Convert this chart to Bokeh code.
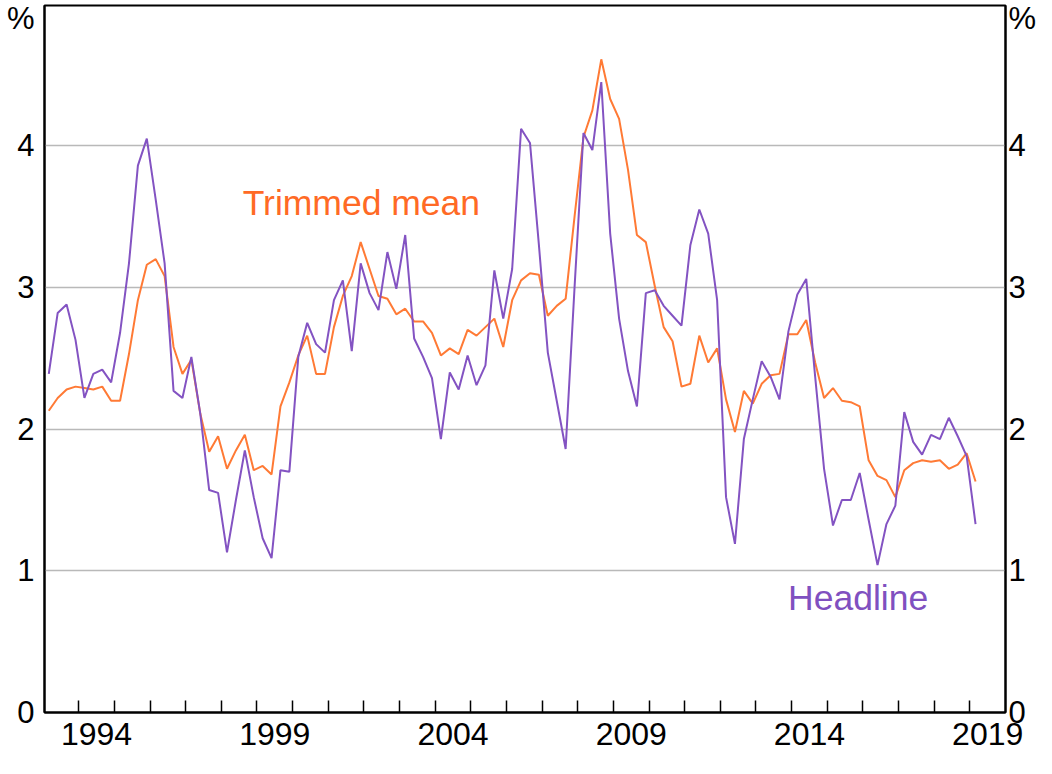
from bokeh.plotting import figure
from bokeh.models import FixedTicker, LinearAxis, Range1d, Label, ColumnDataSource
from bokeh.embed import file_html
from bokeh.resources import INLINE

# ---- data (year-ended %, quarterly, 1993 Q1 - 2019 Q1) ----
start_year = 1993
headline = [
    2.39, 2.82, 2.88, 2.63, 2.22, 2.39, 2.42, 2.33, 2.68, 3.17, 3.86, 4.05,
    3.62, 3.17, 2.27, 2.22, 2.51, 2.11, 1.57, 1.55, 1.13, 1.50, 1.85, 1.52,
    1.23, 1.09, 1.71, 1.70, 2.51, 2.75, 2.60, 2.54, 2.91, 3.05, 2.55, 3.17,
    2.96, 2.84, 3.25, 2.99, 3.37, 2.64, 2.51, 2.36, 1.93, 2.40, 2.28, 2.52,
    2.31, 2.45, 3.12, 2.78, 3.13, 4.12, 4.02, 3.30, 2.54, 2.20, 1.86, 3.00,
    4.09, 3.97, 4.45, 3.38, 2.78, 2.41, 2.16, 2.96, 2.98, 2.87, 2.80, 2.73,
    3.30, 3.55, 3.38, 2.91, 1.52, 1.19, 1.93, 2.21, 2.48, 2.37, 2.21, 2.69,
    2.95, 3.06, 2.37, 1.72, 1.32, 1.50, 1.50, 1.69, 1.36, 1.04, 1.33, 1.46,
    2.12, 1.91, 1.82, 1.96, 1.93, 2.08, 1.95, 1.81, 1.33,
]
trimmed_mean = [
    2.13, 2.22, 2.28, 2.30, 2.29, 2.28, 2.30, 2.20, 2.20, 2.53, 2.91, 3.16,
    3.20, 3.08, 2.58, 2.39, 2.49, 2.11, 1.84, 1.95, 1.72, 1.85, 1.96, 1.71,
    1.74, 1.68, 2.16, 2.33, 2.52, 2.66, 2.39, 2.39, 2.72, 2.94, 3.08, 3.32,
    3.13, 2.94, 2.92, 2.81, 2.85, 2.76, 2.76, 2.68, 2.52, 2.57, 2.53, 2.70,
    2.66, 2.72, 2.78, 2.58, 2.91, 3.05, 3.10, 3.09, 2.80, 2.87, 2.92, 3.50,
    4.06, 4.25, 4.61, 4.33, 4.19, 3.83, 3.37, 3.32, 3.01, 2.72, 2.62, 2.30,
    2.32, 2.66, 2.47, 2.57, 2.21, 1.98, 2.27, 2.18, 2.32, 2.38, 2.39, 2.67,
    2.67, 2.77, 2.47, 2.22, 2.29, 2.20, 2.19, 2.16, 1.78, 1.67, 1.64, 1.52,
    1.71, 1.76, 1.78, 1.77, 1.78, 1.72, 1.75, 1.83, 1.63,
]
x_label_years = [1994, 1999, 2004, 2009, 2014, 2019]
y_ticks = [0, 1, 2, 3, 4]
unit_label = "%"

quarters = [(start_year + i // 4, i % 4 + 1) for i in range(len(headline))]
xpos = [yr + (q - 1) * 0.25 + 0.16 for yr, q in quarters]
src = ColumnDataSource(dict(x=xpos, headline=headline, trimmed=trimmed_mean))

PURPLE = "#8353C2"
ORANGE = "#FF7A35"
FONT = "Liberation Sans"

p = figure(frame_width=961, frame_height=707,
           min_border_left=44, min_border_right=31,
           min_border_top=5, min_border_bottom=40,
           x_range=Range1d(1993.04, 2020.0), y_range=Range1d(0, 4.99),
           output_backend="svg", toolbar_location=None,
           background_fill_color="white", border_fill_color="white")

p.line("x", "trimmed", source=src, line_color=ORANGE, line_width=2)
p.line("x", "headline", source=src, line_color=PURPLE, line_width=2)

pct_pos = 4.91
xt = FixedTicker(ticks=[y + 0.5 for y in x_label_years],
                 minor_ticks=list(range(1994, 2020)))
xa = p.xaxis[0]
xa.ticker = xt
xa.major_label_overrides = {y + 0.5: str(y) for y in x_label_years}
xa.major_tick_in = 0
xa.major_tick_out = 0
xa.minor_tick_in = 12
xa.minor_tick_out = 0
xa.minor_tick_line_color = "black"
xa.minor_tick_line_width = 1.5
xa.axis_line_color = "black"
xa.axis_line_width = 2
xa.major_label_text_font = FONT
xa.major_label_text_font_size = "32px"
xa.major_label_text_color = "black"
xa.major_label_standoff = 10

yt = FixedTicker(ticks=y_ticks + [pct_pos], minor_ticks=[])
ya = p.yaxis[0]
ra = LinearAxis()
p.add_layout(ra, "right")
for ax, standoff in ((ya, 10), (ra, 3)):
    ax.ticker = yt
    ax.major_label_overrides = {pct_pos: unit_label}
    ax.major_tick_in = 0
    ax.major_tick_out = 0
    ax.minor_tick_in = 0
    ax.minor_tick_out = 0
    ax.axis_line_color = "black"
    ax.axis_line_width = 2
    ax.major_label_text_font = FONT
    ax.major_label_text_font_size = "31px"
    ax.major_label_text_color = "black"
    ax.major_label_standoff = standoff

p.xgrid.visible = False
p.ygrid.ticker = FixedTicker(ticks=[1, 2, 3, 4])
p.ygrid.grid_line_color = "#b9b9b9"
p.ygrid.grid_line_width = 1.5

p.outline_line_color = "black"
p.outline_line_width = 2
p.outline_line_alpha = 1

p.add_layout(Label(x=1998.6, y=3.596, text="Trimmed mean", text_color="#FF6A25",
                   text_font=FONT, text_font_size="35.5px",
                   text_align="left", text_baseline="middle"))
p.add_layout(Label(x=2013.9, y=0.81, text="Headline", text_color="#8050C0",
                   text_font=FONT, text_font_size="35.5px",
                   text_align="left", text_baseline="middle"))

open("out.html", "w").write(file_html(p, INLINE))
